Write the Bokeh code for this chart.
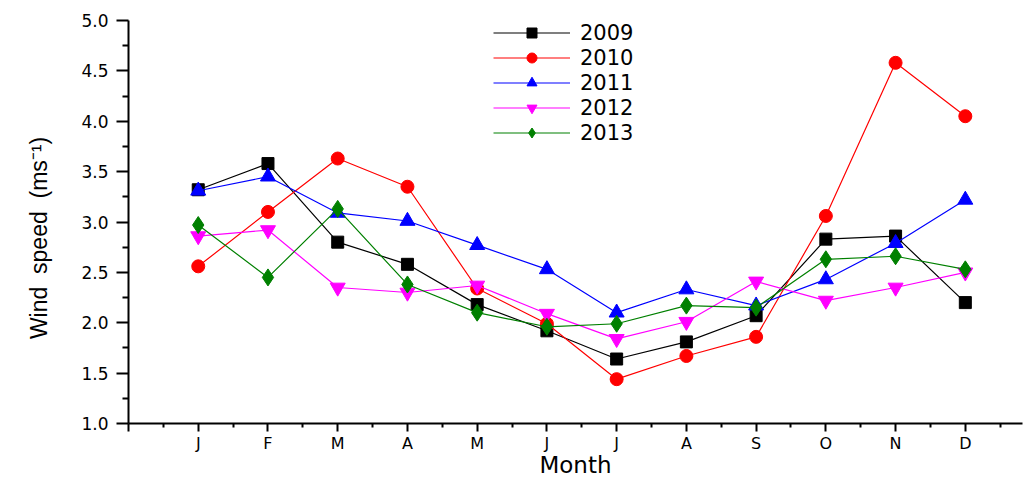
from bokeh.plotting import figure
from bokeh.models import Range1d, FixedTicker, Legend, LegendItem
from bokeh.embed import file_html
from bokeh.resources import INLINE

months = ["J", "F", "M", "A", "M", "J", "J", "A", "S", "O", "N", "D"]
month_pos = list(range(1, 13))

years = ["2009", "2010", "2011", "2012", "2013"]
y2009 = [3.32, 3.58, 2.80, 2.58, 2.18, 1.92, 1.64, 1.81, 2.07, 2.83, 2.86, 2.20]
y2010 = [2.56, 3.10, 3.63, 3.35, 2.34, 1.99, 1.44, 1.67, 1.86, 3.06, 4.58, 4.05]
y2011 = [3.31, 3.45, 3.09, 3.01, 2.77, 2.53, 2.10, 2.33, 2.17, 2.43, 2.79, 3.22]
y2012 = [2.86, 2.92, 2.35, 2.30, 2.37, 2.09, 1.84, 2.01, 2.41, 2.22, 2.35, 2.50]
y2013 = [2.97, 2.45, 3.13, 2.38, 2.10, 1.96, 1.99, 2.17, 2.15, 2.63, 2.66, 2.53]
series = [y2009, y2010, y2011, y2012, y2013]

colors = ["#000000", "#ff0000", "#0000ff", "#ff00ff", "#008000"]
markers = ["square", "circle", "triangle", "inverted_triangle", "diamond"]
msizes = [12, 13, 15, 15, 17]

p = figure(width=1024, height=482, output_backend="svg", toolbar_location=None,
           x_range=Range1d(0, 12.82), y_range=Range1d(1, 5),
           min_border_left=128, min_border_right=2, min_border_top=20,
           min_border_bottom=59)
p.outline_line_color = None
p.grid.visible = False
p.background_fill_color = "white"

items = []
for yr, ys, c, m, s in zip(years, series, colors, markers, msizes):
    ln = p.line(month_pos, ys, line_color=c, line_width=1.2)
    sc = p.scatter(month_pos, ys, marker=m, size=s, fill_color=c, line_color=c)
    items.append(LegendItem(label=yr, renderers=[ln, sc]))

legend = Legend(items=items, location=(365, 278), padding=0, margin=0, spacing=0,
                label_height=25, glyph_height=25, glyph_width=77, label_standoff=10,
                border_line_color=None, background_fill_alpha=0,
                label_text_font="DejaVu Sans", label_text_font_size="21px",
                label_text_color="#000000")
p.add_layout(legend, "center")

# x axis
xa = p.xaxis[0]
xa.ticker = FixedTicker(ticks=[0] + month_pos, minor_ticks=[i + 0.5 for i in range(0, 13)])
xa.major_label_overrides = {0: ""} | {i: mth for i, mth in zip(month_pos, months)}
xa.axis_line_width = 2
xa.major_tick_out = 8
xa.major_tick_in = 0
xa.minor_tick_out = 4
xa.minor_tick_in = 0
xa.major_tick_line_width = 2
xa.minor_tick_line_width = 2
xa.major_label_standoff = 2
xa.major_label_text_font = "DejaVu Sans"
xa.major_label_text_font_size = "16px"
xa.major_label_text_color = "#000000"
xa.axis_label = "Month"
xa.axis_label_text_font = "DejaVu Sans"
xa.axis_label_text_font_size = "23px"
xa.axis_label_text_font_style = "normal"
xa.axis_label_text_color = "#000000"
xa.axis_label_standoff = -4

# y axis
ya = p.yaxis[0]
yt = [1.0 + 0.5 * i for i in range(9)]
ya.ticker = FixedTicker(ticks=yt, minor_ticks=[1.25 + 0.5 * i for i in range(8)])
ya.major_label_overrides = {v: f"{v:.1f}" for v in yt}
ya.axis_line_width = 2
ya.major_tick_out = 12
ya.major_tick_in = 0
ya.minor_tick_out = 6
ya.minor_tick_in = 0
ya.major_tick_line_width = 2
ya.minor_tick_line_width = 2
ya.major_label_standoff = 8
ya.major_label_text_font = "DejaVu Sans"
ya.major_label_text_font_size = "17px"
ya.major_label_text_color = "#000000"
ya.axis_label = "Wind\u00a0\u00a0speed\u00a0\u00a0(ms\u207b\u00b9)\u00a0\u00a0\u00a0\u00a0\u00a0"
ya.axis_label_text_font = "Liberation Sans"
ya.axis_label_text_font_size = "23px"
ya.axis_label_text_font_style = "normal"
ya.axis_label_text_color = "#000000"
ya.axis_label_standoff = 26

open("out.html", "w").write(file_html(p, INLINE))
